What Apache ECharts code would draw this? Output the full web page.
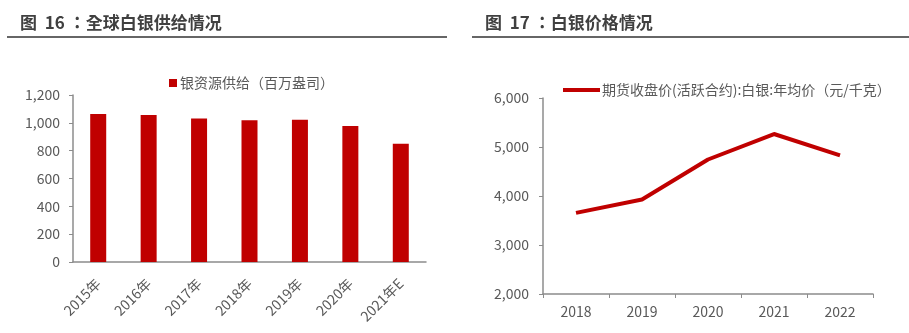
<!DOCTYPE html>
<html><head><meta charset="utf-8">
<script src="https://cdn.jsdelivr.net/npm/echarts@6/dist/echarts.min.js"></script>
<style>html,body{margin:0;padding:0;background:#fff}#c{width:909px;height:333px}</style>
</head><body><div id="c"></div>
<script>
const supplyYears = ['2015年','2016年','2017年','2018年','2019年','2020年','2021年E'];
const supplyValues = [1063, 1056, 1032, 1018, 1022, 977, 850];
const supplyName = '银资源供给（百万盎司）';
const priceYears = ['2018','2019','2020','2021','2022'];
const priceValues = [3655, 3930, 4745, 5265, 4830];
const priceName = '期货收盘价(活跃合约):白银:年均价（元/千克）';
const title1 = '图  16 ：全球白银供给情况';
const title2 = '图  17 ：白银价格情况';

const chart = echarts.init(document.getElementById('c'), null, {renderer:'canvas'});
const FONT = '"Noto Sans CJK SC", "Noto Sans", sans-serif';
const TFONT = '"Noto Sans CJK TC", "Noto Sans CJK SC", sans-serif';
const labelColor = '#595959';
const axisColor = '#8c8c8c';
const red = '#C00000';
const fmt = v => v.toLocaleString('en-US');

chart.setOption({
  animation:false,
  textStyle:{fontFamily:FONT},
  title:[
    {text:title1,left:15,top:9,textStyle:{fontSize:17,fontWeight:'bold',color:'#404040',fontFamily:TFONT}},
    {text:title2,left:480,top:9,textStyle:{fontSize:17,fontWeight:'bold',color:'#404040',fontFamily:TFONT}}
  ],
  graphic:[
    {type:'line',shape:{x1:7,y1:37,x2:447,y2:37},style:{stroke:'#666',lineWidth:2}},
    {type:'line',shape:{x1:472,y1:37,x2:909,y2:37},style:{stroke:'#666',lineWidth:2}}
  ],
  legend:[
    {data:[supplyName],left:164,top:71,icon:'rect',itemWidth:8,itemHeight:8,itemGap:4,
     textStyle:{fontSize:14,color:labelColor,fontFamily:FONT,padding:[0,0,0,-2]}},
    {data:[priceName],left:558,top:78,icon:'rect',itemWidth:37,itemHeight:4,
     textStyle:{fontSize:14,color:labelColor,fontFamily:FONT,padding:[0,0,0,-3]}}
  ],
  grid:[
    {left:73,right:483,top:95,bottom:71},
    {left:543,right:36,top:98,bottom:39}
  ],
  xAxis:[
    {type:'category',gridIndex:0,data:supplyYears,boundaryGap:true,
     axisLine:{lineStyle:{color:axisColor,width:1.5}},axisTick:{show:false},
     axisLabel:{rotate:45,fontSize:14,color:labelColor,margin:19,fontFamily:FONT}},
    {type:'category',gridIndex:1,data:priceYears,boundaryGap:true,
     axisLine:{lineStyle:{color:axisColor,width:1.5}},axisTick:{show:true,length:4,lineStyle:{color:axisColor}},
     axisLabel:{fontSize:14,color:labelColor,margin:11,fontFamily:FONT}}
  ],
  yAxis:[
    {type:'value',gridIndex:0,min:0,max:1200,interval:200,
     axisLine:{show:true,lineStyle:{color:axisColor,width:1.5}},axisTick:{show:true,length:4,lineStyle:{color:axisColor}},
     splitLine:{show:false},
     axisLabel:{fontSize:14,color:labelColor,margin:13,formatter:fmt,fontFamily:FONT}},
    {type:'value',gridIndex:1,min:2000,max:6000,interval:1000,
     axisLine:{show:true,lineStyle:{color:axisColor,width:1.5}},axisTick:{show:true,length:4,lineStyle:{color:axisColor}},
     splitLine:{show:false},
     axisLabel:{fontSize:14,color:labelColor,margin:14,formatter:fmt,fontFamily:FONT}}
  ],
  series:[
    {name:supplyName,type:'bar',xAxisIndex:0,yAxisIndex:0,data:supplyValues,barWidth:16,
     itemStyle:{color:red}},
    {name:priceName,type:'line',xAxisIndex:1,yAxisIndex:1,data:priceValues,
     symbol:'none',lineStyle:{color:red,width:4},itemStyle:{color:red}}
  ]
});
</script></body></html>
